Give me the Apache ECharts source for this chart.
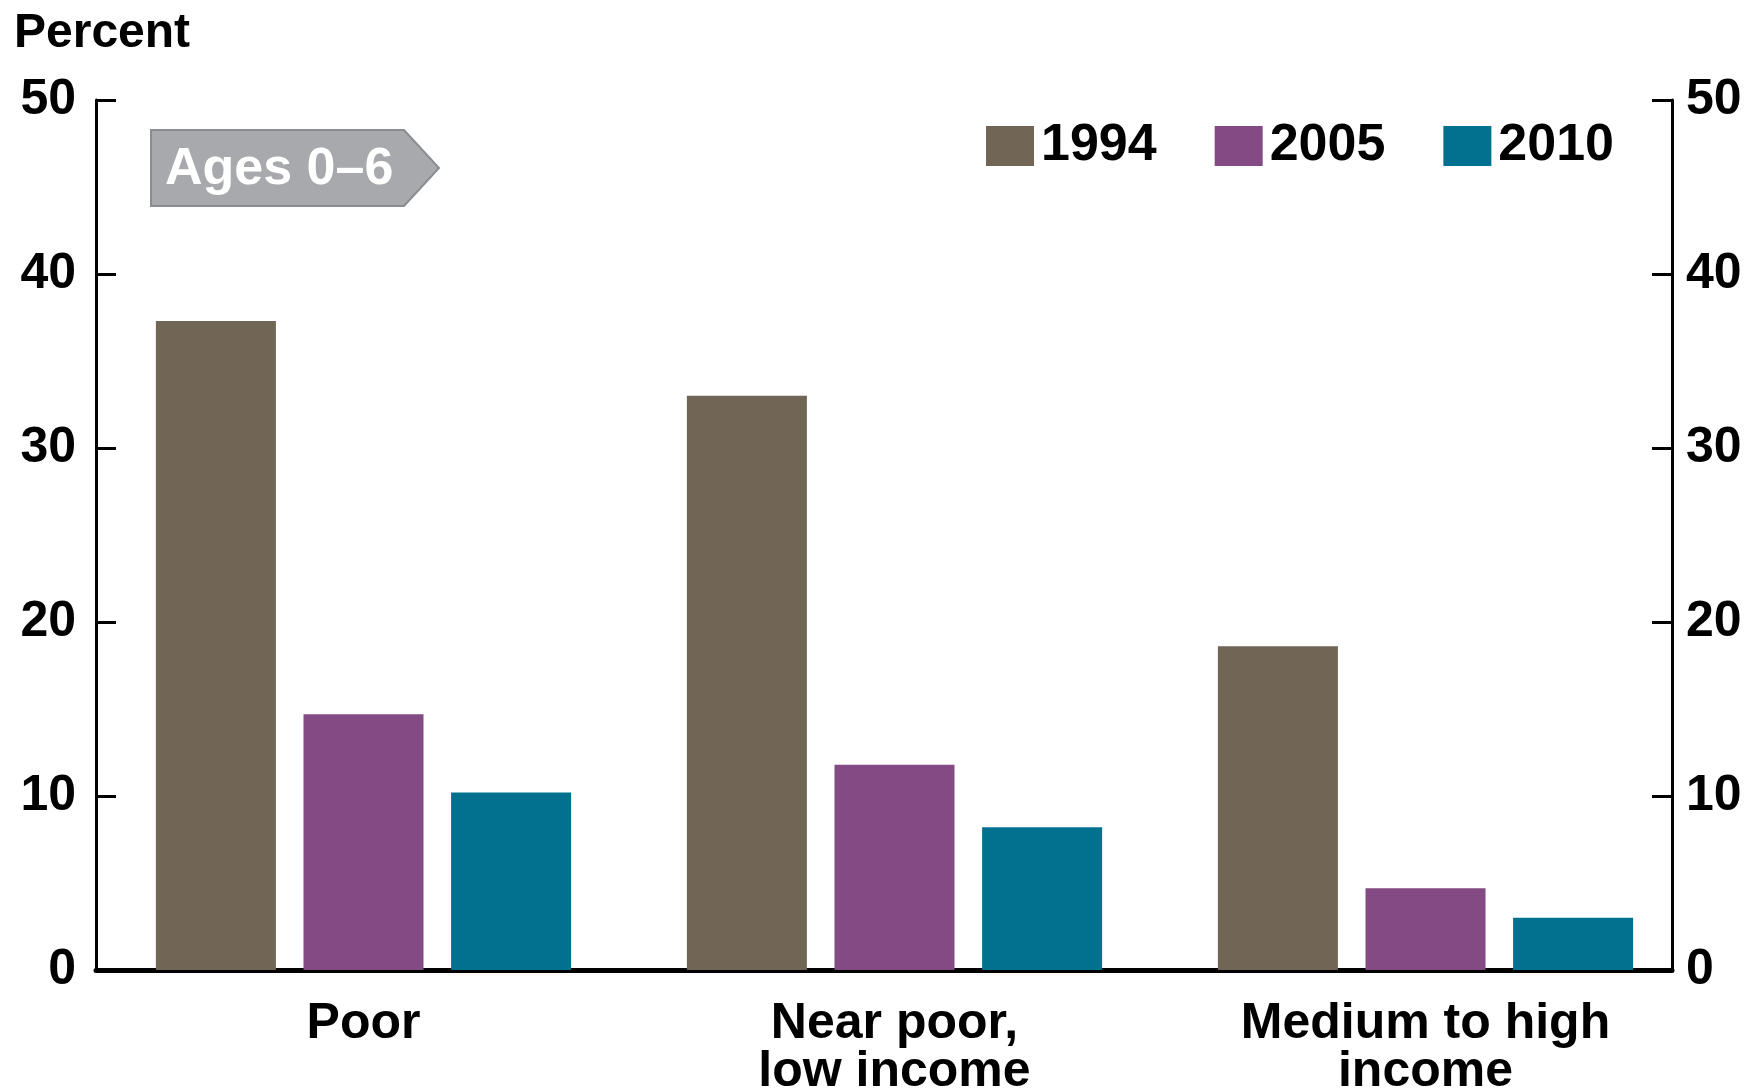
<!DOCTYPE html>
<html><head><meta charset="utf-8">
<script src="https://cdn.jsdelivr.net/npm/echarts@6/dist/echarts.min.js"></script>
<style>html,body{margin:0;padding:0;background:#fff}#c{width:1752px;height:1092px}</style>
</head><body><div id="c"></div>
<script>
const categories = ['Poor', 'Near poor,\nlow income', 'Medium to high\nincome'];
const seriesNames = ['1994', '2005', '2010'];
const v1994 = [37.3, 33.0, 18.6];
const v2005 = [14.7, 11.8, 4.7];
const v2010 = [10.2, 8.2, 3.0];
const yTicks = [0, 10, 20, 30, 40, 50];

const FONT = '"Liberation Sans", Arial, sans-serif';
const colors = ['#716556', '#834a83', '#02718f'];
const chart = echarts.init(document.getElementById('c'));
const yMin = yTicks[0], yMax = yTicks[yTicks.length - 1];
const yAxisBase = (pos) => ({
  type: 'value', gridIndex: 1, position: pos, min: yMin, max: yMax, interval: 10,
  axisLine: { show: true, lineStyle: { color: '#000', width: 3 } },
  axisTick: { show: true, inside: true, length: 20, lineStyle: { color: '#000', width: 3 } },
  splitLine: { show: false },
  axisLabel: { color: '#000', fontFamily: FONT, fontWeight: 'bold', fontSize: 50, margin: pos === 'left' ? 20 : 14 }
});
chart.setOption({
  animation: false,
  textStyle: { fontFamily: FONT },
  title: { text: 'Percent', left: 9, top: 5, textStyle: { fontFamily: FONT, fontWeight: 'bold', fontSize: 48, color: '#000' } },
  legend: {
    data: seriesNames, left: 981, top: 115, itemWidth: 48, itemHeight: 40, itemGap: 58,
    icon: 'rect',
    textStyle: { fontFamily: FONT, fontWeight: 'bold', fontSize: 52, color: '#000', padding: [0, 0, 0, 2] }
  },
  grid: [
    { left: 98, right: 61, top: 100, bottom: 122, containLabel: false, outerBoundsMode: 'none' },
    { left: 96, right: 80, top: 100, bottom: 122, containLabel: false, outerBoundsMode: 'none' }
  ],
  xAxis: [
    { type: 'category', gridIndex: 0, data: categories,
      axisLine: { show: false }, axisTick: { show: false },
      axisLabel: { color: '#000', fontFamily: FONT, fontWeight: 'bold', fontSize: 50, lineHeight: 48, margin: 30, interval: 0 } },
    { type: 'category', gridIndex: 1, data: categories,
      axisLine: { show: true, lineStyle: { color: '#000', width: 5 } },
      axisTick: { show: false }, axisLabel: { show: false } }
  ],
  yAxis: [
    { type: 'value', gridIndex: 0, min: yMin, max: yMax, interval: 10, show: false },
    yAxisBase('left'), yAxisBase('right')
  ],
  series: [
    { name: '1994', type: 'bar', data: v1994, barWidth: '22.6%', barGap: '23%', itemStyle: { color: colors[0] } },
    { name: '2005', type: 'bar', data: v2005, barWidth: '22.6%', barGap: '23%', itemStyle: { color: colors[1] } },
    { name: '2010', type: 'bar', data: v2010, barWidth: '22.6%', barGap: '23%', itemStyle: { color: colors[2] } }
  ],
  graphic: [
    { type: 'polygon', z: 10, shape: { points: [[151,130],[404,130],[439,168],[404,206],[151,206]] },
      style: { fill: '#a7a9ac', stroke: '#8a8c8f', lineWidth: 2 } },
    { type: 'text', z: 11, left: 165, top: 144, style: { text: 'Ages 0–6', fill: '#fff', font: 'bold 52px ' + FONT } }
  ]
});
</script></body></html>
